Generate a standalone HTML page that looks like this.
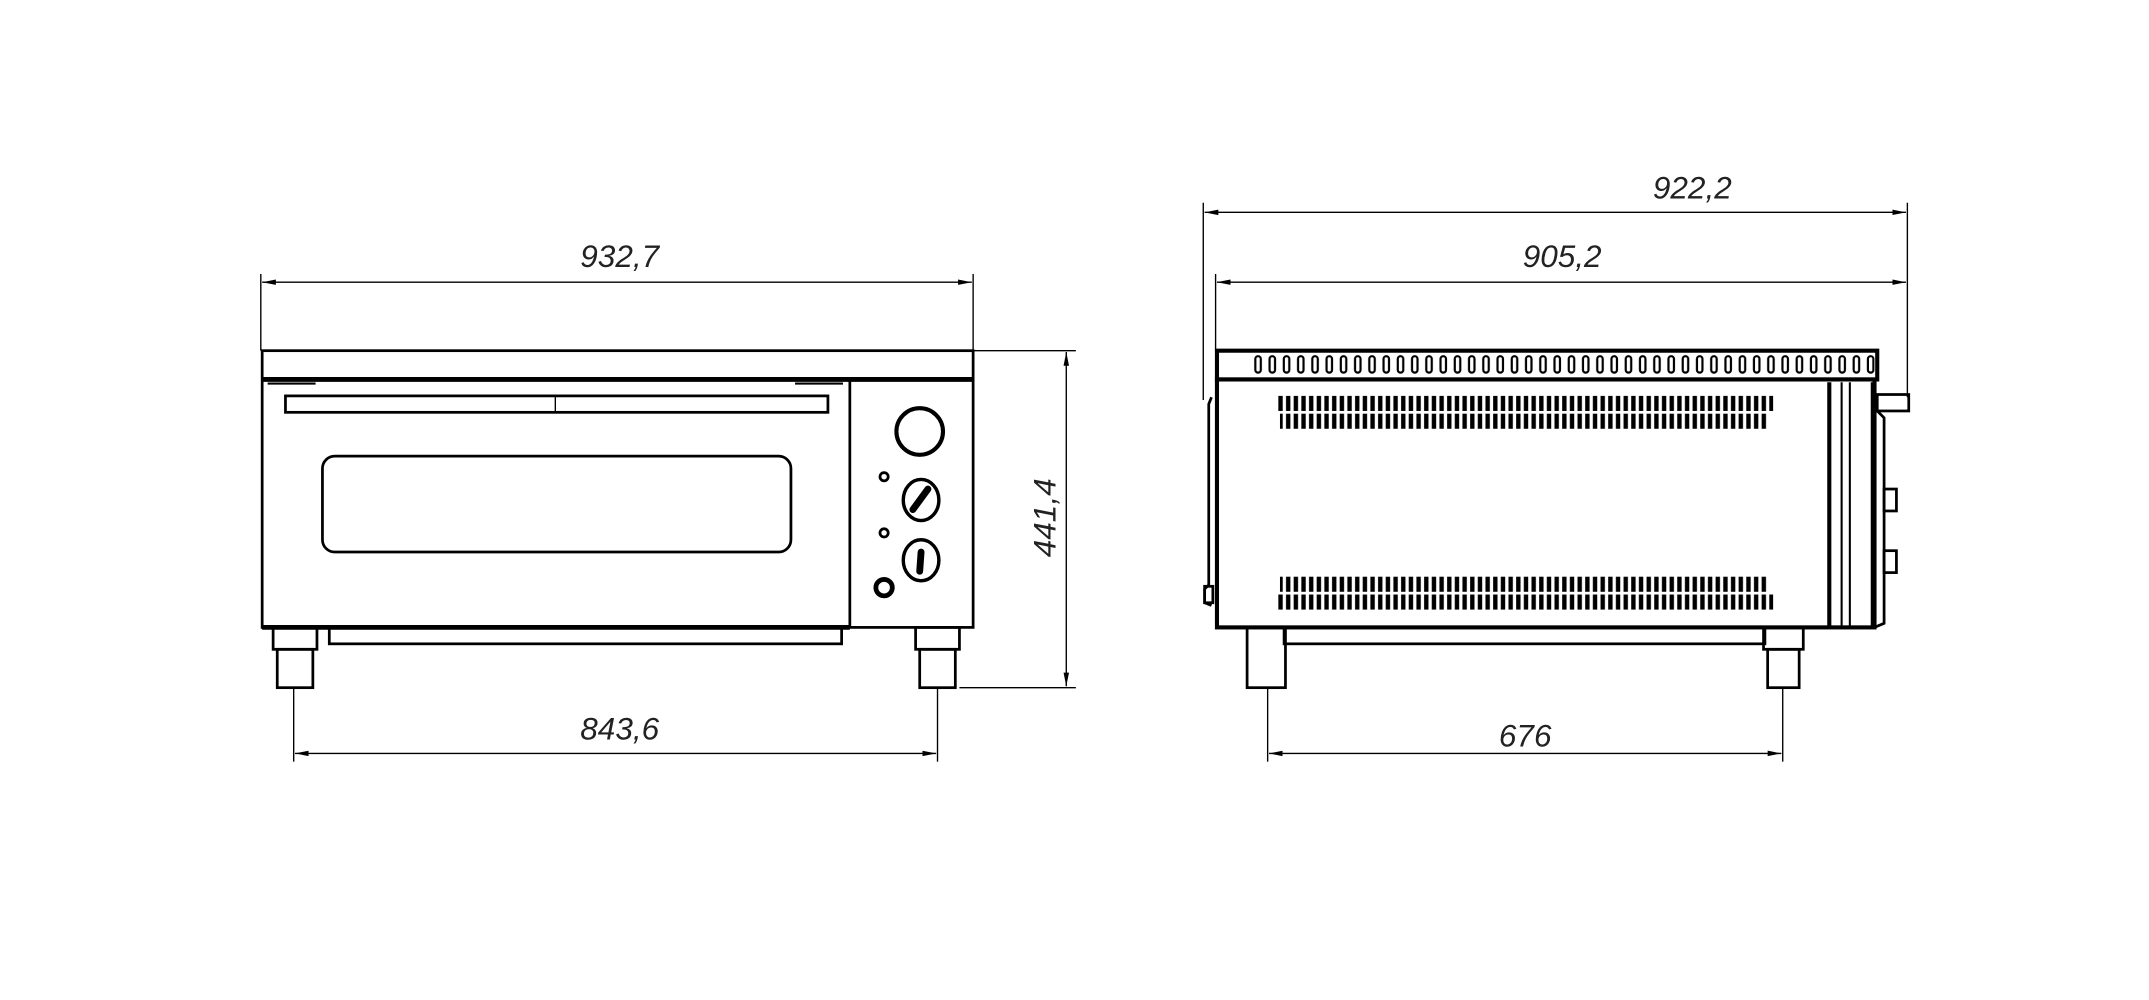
<!DOCTYPE html>
<html><head><meta charset="utf-8"><style>html,body{margin:0;padding:0;background:#fff}svg{display:block}</style></head>
<body>
<svg width="2149" height="1000" viewBox="0 0 1568 730" xmlns="http://www.w3.org/2000/svg">
<defs>
<marker id="ae" viewBox="0 0 10 6" refX="10" refY="3" markerWidth="10" markerHeight="6" markerUnits="userSpaceOnUse" orient="auto"><path d="M0,1 L10,3 L0,5 Z" fill="#000"/></marker>
<marker id="as" viewBox="0 0 10 6" refX="0" refY="3" markerWidth="10" markerHeight="6" markerUnits="userSpaceOnUse" orient="auto"><path d="M10,1 L0,3 L10,5 Z" fill="#000"/></marker>
<pattern id="slot" x="915" y="0" width="10.4" height="730" patternUnits="userSpaceOnUse"><rect x="1" y="260" width="4" height="12" rx="2" fill="#fff" stroke="#000" stroke-width="1.6"/></pattern>
<pattern id="louv" x="932" y="0" width="5.6" height="730" patternUnits="userSpaceOnUse"><rect x="0.8" y="0" width="3.2" height="730" rx="1.6" fill="#000"/></pattern>
</defs>
<g fill="none" stroke="#000" stroke-width="1">
<!-- LEFT VIEW dims -->
<line x1="190" y1="200" x2="190" y2="256"/><line x1="710" y1="200" x2="710" y2="256"/>
<line x1="191" y1="206" x2="709" y2="206" marker-start="url(#as)" marker-end="url(#ae)"/>
<line x1="710" y1="256" x2="785" y2="256"/><line x1="700" y1="502" x2="785" y2="502"/>
<line x1="778" y1="257" x2="778" y2="501" marker-start="url(#as)" marker-end="url(#ae)"/>
<line x1="214" y1="502" x2="214" y2="556"/><line x1="684" y1="502" x2="684" y2="556"/>
<line x1="215" y1="550" x2="683" y2="550" marker-start="url(#as)" marker-end="url(#ae)"/>
<!-- left body -->
<rect x="191" y="256" width="519" height="202" stroke-width="2"/>
<line x1="191" y1="277" x2="710" y2="277" stroke-width="3.5"/>
<line x1="191" y1="458" x2="620" y2="458" stroke-width="3.5"/>
<line x1="620" y1="278" x2="620" y2="458" stroke-width="2"/>
<line x1="195" y1="280" x2="230" y2="280" stroke-width="1.5"/><line x1="580" y1="280" x2="615" y2="280" stroke-width="1.5"/>
<rect x="208" y="289" width="396" height="12" stroke-width="2"/><line x1="405" y1="289" x2="405" y2="301"/>
<rect x="235" y="333" width="342" height="70" rx="9" stroke-width="2"/>
<circle cx="671" cy="315" r="17" stroke-width="3"/>
<circle cx="645" cy="348" r="3" stroke-width="2"/><circle cx="645" cy="389" r="3" stroke-width="2"/>
<ellipse cx="672" cy="365" rx="13" ry="15" stroke-width="2.5"/><ellipse cx="672" cy="409" rx="13" ry="15" stroke-width="2.5"/>
<path d="M666,372 L677,357" stroke-width="5" stroke-linecap="round"/><path d="M672,403 L671,417" stroke-width="5" stroke-linecap="round"/>
<circle cx="645" cy="429" r="6" stroke-width="3.5"/>
<rect x="240" y="458" width="374" height="12" stroke-width="2"/>
<rect x="199" y="458" width="32" height="16" stroke-width="2"/><rect x="202" y="474" width="26" height="28" stroke-width="2"/>
<rect x="668" y="458" width="32" height="16" stroke-width="2"/><rect x="671" y="474" width="26" height="28" stroke-width="2"/>
<!-- RIGHT VIEW dims -->
<line x1="878" y1="148" x2="878" y2="292"/><line x1="1392" y1="148" x2="1392" y2="290"/>
<line x1="879" y1="155" x2="1391" y2="155" marker-start="url(#as)" marker-end="url(#ae)"/>
<line x1="887" y1="200" x2="887" y2="256"/>
<line x1="888" y1="206" x2="1391" y2="206" marker-start="url(#as)" marker-end="url(#ae)"/>
<line x1="925" y1="502" x2="925" y2="556"/><line x1="1301" y1="502" x2="1301" y2="556"/>
<line x1="926" y1="550" x2="1300" y2="550" marker-start="url(#as)" marker-end="url(#ae)"/>
<!-- right body -->
<rect x="888" y="256" width="482" height="21" stroke-width="3"/>
<rect x="912" y="258" width="456" height="17" fill="url(#slot)" stroke="none"/>
<rect x="888" y="277" width="480" height="181" stroke-width="3"/>
<line x1="1335" y1="279" x2="1335" y2="457" stroke-width="3"/>
<line x1="1344" y1="279" x2="1344" y2="457" stroke-width="1.5"/>
<line x1="1350" y1="279" x2="1350" y2="457" stroke-width="1.5"/>
<line x1="1366" y1="279" x2="1366" y2="457" stroke-width="1.5"/>
<rect x="1370" y="288" width="23" height="12" stroke-width="2"/>
<path d="M1370,300 L1375,305 L1375,455 L1368,458" stroke-width="2"/>
<rect x="1375" y="357" width="9" height="16" stroke-width="2"/><rect x="1375" y="402" width="9" height="16" stroke-width="2"/>
<path d="M884,290 L882,295 L882,427 L879,430 L879,440 L884,442" stroke-width="2"/>
<rect x="879" y="428" width="6" height="12" stroke-width="2"/>
<rect x="932" y="289" width="362" height="11" fill="url(#louv)" stroke="none"/>
<rect x="934" y="302" width="356" height="11" fill="url(#louv)" stroke="none"/>
<rect x="934" y="421" width="356" height="11" fill="url(#louv)" stroke="none"/>
<rect x="932" y="434" width="362" height="11" fill="url(#louv)" stroke="none"/>
<rect x="937" y="458" width="351" height="12" stroke-width="2"/>
<rect x="910" y="458" width="28" height="44" stroke-width="2"/>
<rect x="1287" y="458" width="29" height="16" stroke-width="2"/><rect x="1290" y="474" width="23" height="28" stroke-width="2"/>
</g>
<g font-family="Liberation Sans, sans-serif" font-style="italic" font-size="23" fill="#222" text-anchor="middle">
<text x="452" y="195">932,7</text>
<text x="452" y="540">843,6</text>
<text x="770" y="378" transform="rotate(-90 770 378)">441,4</text>
<text x="1235" y="145">922,2</text>
<text x="1140" y="195">905,2</text>
<text x="1113" y="545">676</text>
</g>
</svg>
</body></html>
